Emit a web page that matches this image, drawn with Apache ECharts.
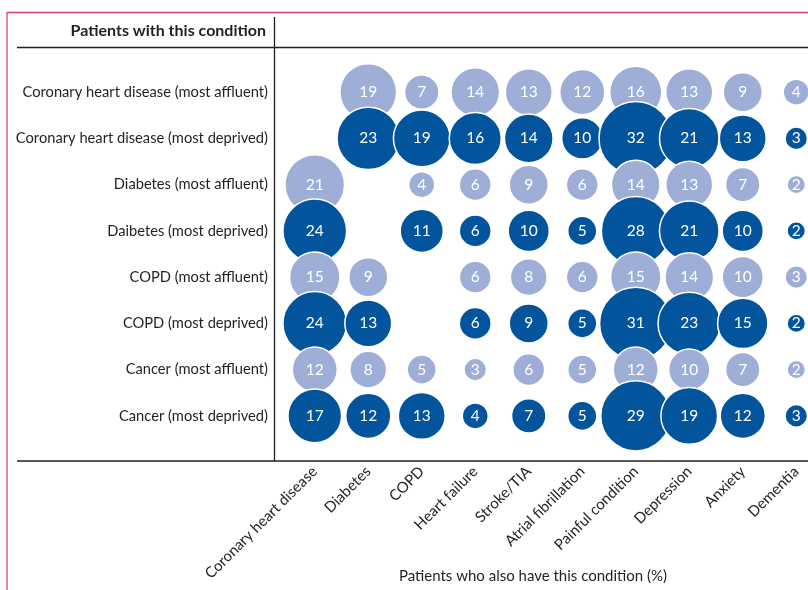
<!DOCTYPE html>
<html>
<head>
    <meta charset="utf-8">
    <title>Patients with this condition</title>
    <script src="https://cdn.jsdelivr.net/npm/echarts@6/dist/echarts.min.js"></script>
    <style>
        html, body { margin: 0; padding: 0; background: #fff; }
        #chart1 { width: 808px; height: 590px; }
    </style>
</head>
<body>
<div id="chart1"></div>
<script type="text/javascript">

    // rows (patients with this condition)
    var rowLabels = [
        'Coronary heart disease (most affluent)',
        'Coronary heart disease (most deprived)',
        'Diabetes (most affluent)',
        'Daibetes (most deprived)',
        'COPD (most affluent)',
        'COPD (most deprived)',
        'Cancer (most affluent)',
        'Cancer (most deprived)'
    ];
    // columns (patients who also have this condition)
    var colLabels = ['Coronary heart disease', 'Diabetes', 'COPD', 'Heart failure', 'Stroke/TIA',
        'Atrial fibrillation', 'Painful condition', 'Depression', 'Anxiety', 'Dementia'];

    var chdAffluent      = [null, 19, 7, 14, 13, 12, 16, 13, 9, 4];
    var chdDeprived      = [null, 23, 19, 16, 14, 10, 32, 21, 13, 3];
    var diabetesAffluent = [21, null, 4, 6, 9, 6, 14, 13, 7, 2];
    var diabetesDeprived = [24, null, 11, 6, 10, 5, 28, 21, 10, 2];
    var copdAffluent     = [15, 9, null, 6, 8, 6, 15, 14, 10, 3];
    var copdDeprived     = [24, 13, null, 6, 9, 5, 31, 23, 15, 2];
    var cancerAffluent   = [12, 8, 5, 3, 6, 5, 12, 10, 7, 2];
    var cancerDeprived   = [17, 12, 13, 4, 7, 5, 29, 19, 12, 3];

    var rows = [chdAffluent, chdDeprived, diabetesAffluent, diabetesDeprived,
        copdAffluent, copdDeprived, cancerAffluent, cancerDeprived];

    var lightBlue = '#9eaed7';
    var darkBlue = '#02549d';
    var textColor = '#231f20';
    var fontName = 'Lato';

    // one series per row so later rows sit on top, like the original
    var series = rows.map(function (vals, r) {
        var data = [];
        vals.forEach(function (v, c) {
            if (v !== null) data.push([c, r, v]);
        });
        return {
            name: rowLabels[r],
            type: 'scatter',
            clip: false,
            data: data,
            symbolSize: function (val) { return 13 * Math.sqrt(val[2]); },
            itemStyle: {
                color: r % 2 === 0 ? lightBlue : darkBlue,
                opacity: 1,
                borderColor: '#fff',
                borderWidth: 1.5
            },
            label: {
                show: true,
                position: 'inside',
                formatter: function (p) { return p.value[2]; },
                color: '#fff',
                fontFamily: fontName,
                fontSize: 15.5
            },
            emphasis: { disabled: true }
        };
    });

    var myChart1 = echarts.init(document.getElementById('chart1'));

    myChart1.setOption({
        animation: false,
        backgroundColor: '#fff',
        textStyle: { fontFamily: fontName },
        title: [{
            text: 'Patients with this condition',
            left: 266,
            top: 23,
            padding: 0,
            textAlign: 'right',
            textStyle: { fontSize: 16, fontWeight: 'bold', color: textColor, fontFamily: fontName }
        }, {
            text: 'Patients who also have this condition (%)',
            left: 533,
            top: 569,
            padding: 0,
            textAlign: 'center',
            textStyle: { fontSize: 15, fontWeight: 'normal', color: textColor, fontFamily: fontName }
        }],
        grid: { left: 288, top: 69, width: 535, height: 370, outerBoundsMode: 'none' },
        xAxis: {
            type: 'category',
            data: colLabels,
            offset: 22,
            axisLine: { show: false },
            axisTick: { show: false },
            splitLine: { show: false },
            axisLabel: {
                interval: 0,
                rotate: 45,
                margin: 8,
                color: textColor,
                fontSize: 15,
                fontFamily: fontName
            }
        },
        yAxis: {
            type: 'category',
            data: rowLabels,
            inverse: true,
            axisLine: { show: false },
            axisTick: { show: false },
            splitLine: { show: false },
            axisLabel: {
                interval: 0,
                margin: 20,
                color: textColor,
                fontSize: 14.7,
                fontFamily: fontName
            }
        },
        graphic: [
            // pink frame
            { type: 'line', shape: { x1: 7, y1: 12.5, x2: 808, y2: 12.5 }, style: { stroke: '#d0406f', lineWidth: 1.5 } },
            { type: 'line', shape: { x1: 7, y1: 12, x2: 7, y2: 590 }, style: { stroke: '#d9608a', lineWidth: 1.5 } },
            // table rules
            { type: 'line', shape: { x1: 17, y1: 47.5, x2: 808, y2: 47.5 }, style: { stroke: '#231f20', lineWidth: 1.3 } },
            { type: 'line', shape: { x1: 274.5, y1: 17, x2: 274.5, y2: 461 }, style: { stroke: '#231f20', lineWidth: 1.3 } },
            { type: 'line', shape: { x1: 17, y1: 461, x2: 808, y2: 461 }, style: { stroke: '#231f20', lineWidth: 1.3 } }
        ],
        series: series
    });
</script>
</body>
</html>
